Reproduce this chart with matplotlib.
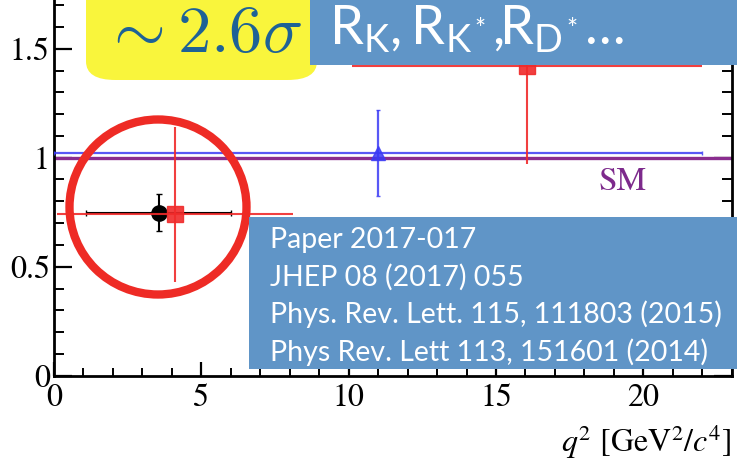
import matplotlib
matplotlib.use("Agg")
import matplotlib.pyplot as plt
from matplotlib.patches import FancyBboxPatch, Ellipse, Rectangle
from matplotlib.ticker import MultipleLocator

# measurements: bin centre, half width, central value, lower/upper errors
lhcb_q2 = [3.55]
lhcb_q2_err = [2.45]
lhcb_r = [0.745]
lhcb_r_lo = [0.08]
lhcb_r_hi = [0.09]

red_q2 = [4.1, 16.05]
red_q2_err = [4.0, 5.95]
red_r = [0.74, 1.42]
red_r_lo = [0.31, 0.45]
red_r_hi = [0.40, 0.45]

blue_q2 = [11.0]
blue_q2_err = [11.0]
blue_r = [1.02]
blue_r_lo = [0.195]
blue_r_hi = [0.20]

sm_value = 1.0

xticks = [0, 5, 10, 15, 20]
yticks = [0, 0.5, 1, 1.5]
ytick_labels = ["0", "0.5", "1", "1.5"]

refs = ["Paper 2017-017",
        "JHEP 08 (2017) 055",
        "Phys. Rev. Lett. 115, 111803 (2015)",
        "Phys Rev. Lett 113, 151601 (2014)"]

plt.rcParams["mathtext.rm"] = "Lato"
plt.rcParams["mathtext.it"] = "Lato:italic"

W, H = 737, 463
fig = plt.figure(figsize=(W / 100, H / 100), dpi=100)


def fx(px):
    return px / W


def fy(py):
    return 1 - py / H


ax = fig.add_axes([fx(54), fy(375.7), fx(731.7) - fx(54), fy(0) - fy(375.7)])
ax.set_xlim(0, 23)
ax.set_ylim(0, 375.7 / 218)

ax.axhline(sm_value, color="#8a2d8f", lw=2.4, zorder=2)
ax.errorbar(blue_q2, blue_r, xerr=[blue_q2_err, blue_q2_err],
            yerr=[blue_r_lo, blue_r_hi], fmt="^", color="#3b3bf5",
            ms=10, lw=1.6, capsize=1.5, zorder=3, alpha=0.85)
ax.errorbar(lhcb_q2, lhcb_r, xerr=[lhcb_q2_err, lhcb_q2_err],
            yerr=[lhcb_r_lo, lhcb_r_hi], fmt="o", color="black",
            ms=11, lw=1.5, capsize=2, zorder=4)
ax.errorbar(red_q2, red_r, xerr=[red_q2_err, red_q2_err],
            yerr=[red_r_lo, red_r_hi], fmt="s", color="#f02a2a",
            ms=11, lw=1.5, capsize=0, zorder=5, alpha=0.9)

ax.text(19.3, 0.885, "SM", color="#7d2a8c", fontsize=24, ha="center",
        va="center", family="STIXGeneral")

ax.spines["top"].set_visible(False)
for s in ["left", "bottom", "right"]:
    ax.spines[s].set_linewidth(2)

ax.set_xticks(xticks)
ax.set_yticks(yticks)
ax.set_yticklabels(ytick_labels)
ax.xaxis.set_minor_locator(MultipleLocator(1))
ax.yaxis.set_minor_locator(MultipleLocator(0.1))
ax.tick_params(axis="y", which="major", direction="in", length=13, width=1.6,
               right=True, labelsize=23, pad=3)
ax.tick_params(axis="y", which="minor", direction="in", length=7, width=1.4,
               right=True)
ax.tick_params(axis="x", which="major", direction="in", length=10, width=1.6,
               labelsize=23, pad=6)
ax.tick_params(axis="x", which="minor", direction="in", length=6, width=1.4)
for lab in ax.get_xticklabels() + ax.get_yticklabels():
    lab.set_family("STIXGeneral")

fig.text(fx(731), fy(452), r"$q^2$ [GeV$^2$/$c^4$]", ha="right",
         va="baseline", fontsize=23, family="STIXGeneral",
         math_fontfamily="stix")

# hand-drawn circle around the low-q2 points
fig.patches.append(Ellipse((fx(158), fy(207)), 177 / W, 175 / H,
                           transform=fig.transFigure, fill=False,
                           edgecolor="#ee2b25", lw=6, zorder=6))

# yellow significance badge
fig.patches.append(FancyBboxPatch((fx(86), fy(80)), fx(231), 130 / H,
                                  boxstyle="round,pad=0,rounding_size=0.04",
                                  transform=fig.transFigure,
                                  facecolor="#f9f53c", edgecolor="none",
                                  zorder=7))
fig.text(fx(202), fy(33), r"$\sim 2.6\sigma$", ha="center", va="center",
         fontsize=48, color="#1e6296", math_fontfamily="cm", zorder=8)

# blue title banner
fig.patches.append(Rectangle((fx(310), fy(65)), fx(427), 65 / H,
                             transform=fig.transFigure, facecolor="#6095c7",
                             edgecolor="none", zorder=7))
fig.text(fx(329), fy(45), r"$\mathrm{R_K,R_{K^*},\!\!R_{D^*}}$…",
         ha="left", va="baseline", fontsize=39, color="white",
         family="Lato", math_fontfamily="custom", zorder=8)

# reference box
fig.patches.append(Rectangle((fx(249), fy(369)), fx(488), 152 / H,
                             transform=fig.transFigure, facecolor="#6095c7",
                             edgecolor="none", zorder=7))
for i, ref in enumerate(refs):
    fig.text(fx(270), fy(240 + 37.3 * i), ref, ha="left", va="center",
             fontsize=20.5, color="white", family="Lato", zorder=8)

fig.savefig("out.png", dpi=100)
